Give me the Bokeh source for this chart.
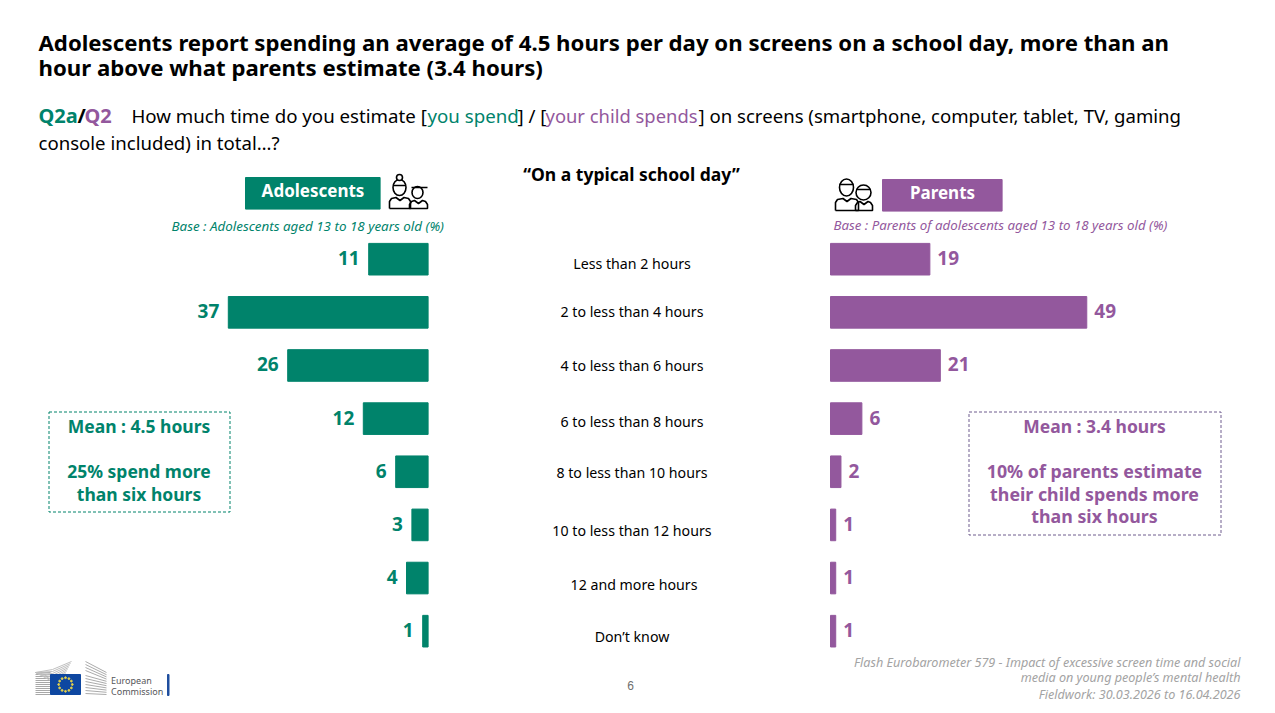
import math
from bokeh.plotting import figure
from bokeh.models import Range1d, ColumnDataSource
from bokeh.core.properties import value
from bokeh.embed import file_html
from bokeh.resources import INLINE

categories = ["Less than 2 hours", "2 to less than 4 hours", "4 to less than 6 hours",
              "6 to less than 8 hours", "8 to less than 10 hours", "10 to less than 12 hours",
              "12 and more hours", "Don\u2019t know"]
adolescents = [11, 37, 26, 12, 6, 3, 4, 1]
parents = [19, 49, 21, 6, 2, 1, 1, 1]

TEAL = "#00836B"
PURPLE = "#93589D"
GREY = "#A3A3A3"
FONT = "Noto Sans"
W, H = 1267, 705

p = figure(width=W, height=H, output_backend="svg", toolbar_location=None,
           x_axis_type=None, y_axis_type=None,
           x_range=Range1d(0, W), y_range=Range1d(H, 0),
           min_border=0, outline_line_color=None, background_fill_color="white",
           border_fill_color="white")
p.grid.visible = False

# scales for the data: zero at the bar baselines, one row = 53.14 px
ADOL_ZERO, ADOL_PX = 427.6, 5.4
PAR_ZERO, PAR_PX = 830, 5.23
ROW0, ROW_PX = 258.7, 53.14
p.extra_x_ranges["adol"] = Range1d(ADOL_ZERO / ADOL_PX, (ADOL_ZERO - W) / ADOL_PX)
p.extra_x_ranges["par"] = Range1d(-PAR_ZERO / PAR_PX, (W - PAR_ZERO) / PAR_PX)
p.extra_y_ranges["rows"] = Range1d((H - ROW0) / ROW_PX, -ROW0 / ROW_PX)

src = ColumnDataSource(dict(row=list(range(len(categories))),
                            adol=adolescents, par=parents,
                            adol_l=[str(v) for v in adolescents],
                            par_l=[str(v) for v in parents]))

p.hbar(y="row", left=0, right="adol", height=0.595, color=TEAL, source=src,
       x_range_name="adol", y_range_name="rows")
p.hbar(y="row", left=0, right="par", height=0.595, color=PURPLE, source=src,
       x_range_name="par", y_range_name="rows")
p.text(x="adol", y="row", text="adol_l", source=src, x_range_name="adol", y_range_name="rows",
       x_offset=-9, y_offset=-1, text_align="right", text_baseline="middle", text_color=TEAL,
       text_font=value(FONT), text_font_style="bold", text_font_size="19px")
p.text(x="par", y="row", text="par_l", source=src, x_range_name="par", y_range_name="rows",
       x_offset=7.5, y_offset=-1, text_align="left", text_baseline="middle", text_color=PURPLE,
       text_font=value(FONT), text_font_style="bold", text_font_size="19px")


def txt(x, y, s, color="black", size=14, style="normal", align="left", font=FONT):
    p.text(x=[x], y=[y - 1], text=[s], text_color=color, text_font=value(font),
           text_font_size=f"{size}px", text_font_style=style, text_align=align,
           text_baseline="middle")


# title
txt(38, 43, "Adolescents report spending an average of 4.5 hours per day on screens on a school day, more than an", size=22.2, style="bold")
txt(38, 68, "hour above what parents estimate (3.4 hours)", size=22.2, style="bold")

# question
txt(38, 116, "Q2a", TEAL, 20, "bold")
txt(77, 116, "/", "black", 20, "bold")
txt(84, 116, "Q2", PURPLE, 20, "bold")
txt(131, 116, "How much time do you estimate [", size=18.7)
txt(427, 116, "you spend", TEAL, 18.7)
txt(517, 116, "] / [", size=18.7)
txt(545, 116, "your child spends", PURPLE, 18.4)
txt(698, 116, "] on screens (smartphone, computer, tablet, TV, gaming", size=18.6)
txt(38, 143, "console included) in total\u2026?", size=18.6)
txt(631, 174, "\u201cOn a typical school day\u201d", size=17.5, style="bold", align="center")

# headers
p.quad(left=[245], right=[379.6], top=[177], bottom=[208.6], color=TEAL)
p.quad(left=[882], right=[1001.6], top=[179], bottom=[210.6], color=PURPLE)
txt(312.5, 191, "Adolescents", "white", 17, "bold", "center")
txt(942, 193, "Parents", "white", 17, "bold", "center")
txt(171, 226, "Base : Adolescents aged 13 to 18 years old (%)", TEAL, 13.4, "italic")
txt(833, 225, "Base : Parents of adolescents aged 13 to 18 years old (%)", PURPLE, 13.3, "italic")

# category labels (their vertical placement in the slide is slightly irregular)
CATEGORY_Y = [264, 312, 366, 422, 473, 531, 585, 637]
CATEGORY_X = [632, 632, 632, 632, 632, 632, 634, 632]
for x, y, s in zip(CATEGORY_X, CATEGORY_Y, categories):
    txt(x - 0.5, y, s, size=14.2, align="center")

# call-out boxes
p.quad(left=[48.5], right=[229.5], top=[411.5], bottom=[511.5], fill_color=None,
       line_color=TEAL, line_width=1, line_dash="3 2")
p.quad(left=[968.5], right=[1220.5], top=[411.5], bottom=[534.5], fill_color=None,
       line_color="#6E5C8E", line_width=1, line_dash="3 2")
txt(138.5, 426, "Mean : 4.5 hours", TEAL, 17.5, "bold", "center")
txt(138.5, 471, "25% spend more", TEAL, 17.5, "bold", "center")
txt(138.5, 494, "than six hours", TEAL, 17.5, "bold", "center")
txt(1094, 426, "Mean : 3.4 hours", PURPLE, 17.5, "bold", "center")
txt(1094, 471, "10% of parents estimate", PURPLE, 17.8, "bold", "center")
txt(1094, 494, "their child spends more", PURPLE, 17.8, "bold", "center")
txt(1094, 516, "than six hours", PURPLE, 17.8, "bold", "center")

# footer
txt(1240, 663, "Flash Eurobarometer 579 - Impact of excessive screen time and social", GREY, 12.6, "italic", "right")
txt(1240, 678, "media on young people\u2019s mental health", GREY, 12.6, "italic", "right")
txt(1240, 695, "Fieldwork: 30.03.2026 to 16.04.2026", GREY, 12.6, "italic", "right")
txt(630, 686, "6", "#6E6E6E", 12, align="center", font="Liberation Sans")


# pictograms
def person(cx, cy, rx, ry, x0, x1, ytop, ybot):
    p.ellipse(x=[cx], y=[cy], width=[2 * rx], height=[2 * ry], fill_color="white",
              line_color="black", line_width=1.6)
    mid = (x0 + x1) / 2
    p.line([x0, x0, x0 + 2, mid - 4, mid, mid + 4, x1 - 2, x1, x1, x0],
           [ybot, ytop + 4, ytop + 1, ytop, ytop + 3, ytop, ytop + 1, ytop + 4, ybot, ybot],
           line_color="black", line_width=1.6)


person(399, 187, 6.5, 8, 389, 410, 197, 208)
p.ellipse(x=[399], y=[177], width=[6], height=[6], fill_color="white", line_color="black", line_width=1.6)
p.line([393, 405], [185, 185], line_color="black", line_width=1.6)
person(417, 192, 5.5, 6, 409, 427, 200, 208)
p.line([411, 427], [187, 187], line_color="black", line_width=1.6)

person(863, 192, 7.5, 7.5, 855, 872, 201, 210)
person(846, 187, 7, 8.5, 835, 858, 198, 210)
p.line([839, 853], [184, 184], line_color="black", line_width=1.6)
p.line([856, 870], [189, 189], line_color="black", line_width=1.6)

# logo
logo_ys = list(range(672, 696, 2))
p.multi_line(xs=[[35, 50]] * len(logo_ys), ys=[[y, y] for y in logo_ys], line_color="#A8A8A8", line_width=1)
for i, y in enumerate(range(661, 674, 2)):
    p.line([35, 52, 71 - i], [672, y + 8, y], line_color="#C0C0C0", line_width=1)
for i, y in enumerate(range(663, 696, 3)):
    p.line([85, 106], [y - 2 if i < 4 else y, min(695, 672 + i * 2.2)], line_color="#ABABAB", line_width=1)
p.quad(left=[50], right=[80], top=[674], bottom=[694], color="#0E47A1")
n = 12
p.scatter(x=[65 + 6.8 * math.cos(2 * math.pi * i / n) for i in range(n)],
          y=[684 + 6.8 * math.sin(2 * math.pi * i / n) for i in range(n)],
          size=1.8, marker="circle", color="#E8D44A")
txt(110.5, 681, "European", "#55565A", 9)
txt(110.5, 692, "Commission", "#55565A", 9)
p.quad(left=[167], right=[168.5], top=[674], bottom=[695], color="#1F4E9E")

open("out.html", "w").write(file_html(p, INLINE))
